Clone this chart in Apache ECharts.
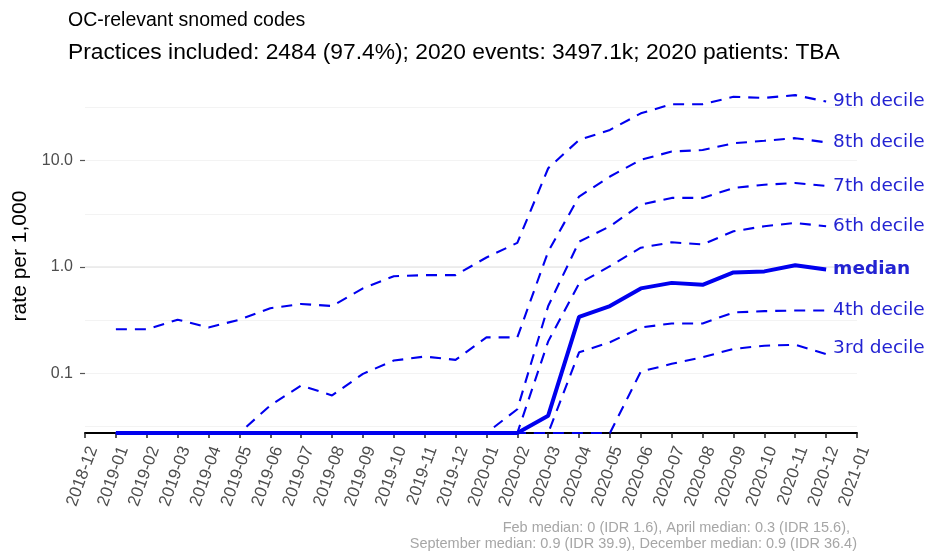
<!DOCTYPE html>
<html>
<head>
<meta charset="utf-8">
<script src="https://cdn.jsdelivr.net/npm/echarts@6.0.0/dist/echarts.min.js"></script>
<style>
  html, body { margin: 0; padding: 0; background: #fff; }
  #chart { width: 927px; height: 552px; }
</style>
</head>
<body>
<div id="chart"></div>
<script>
// x axis ticks (first of each month)
const months = ['2018-12', '2019-01', '2019-02', '2019-03', '2019-04', '2019-05', '2019-06',
  '2019-07', '2019-08', '2019-09', '2019-10', '2019-11', '2019-12', '2020-01', '2020-02',
  '2020-03', '2020-04', '2020-05', '2020-06', '2020-07', '2020-08', '2020-09', '2020-10',
  '2020-11', '2020-12', '2021-01'];
// months that carry data
const dataMonths = months.slice(1, 25);

// rate per 1,000, 2019-01 .. 2020-12 (0 = no events, drawn on the floor)
const decile9 = [0.26, 0.26, 0.32, 0.27, 0.32, 0.41, 0.45, 0.43, 0.63, 0.82, 0.84, 0.84,
  1.23, 1.69, 8.5, 15.7, 19.5, 27.9, 34, 34, 39.9, 39, 41.4, 36];
const decile8 = [0, 0, 0, 0, 0, 0.05, 0.077, 0.062, 0.099, 0.132, 0.144, 0.134,
  0.218, 0.218, 1.4, 4.6, 7.1, 10.2, 12.2, 12.6, 14.6, 15.4, 16.3, 14.9];
const decile7 = [0, 0, 0, 0, 0, 0, 0, 0, 0, 0, 0, 0,
  0, 0.046, 0.43, 1.73, 2.42, 3.87, 4.47, 4.47, 5.54, 5.95, 6.17, 5.8];
const decile6 = [0, 0, 0, 0, 0, 0, 0, 0, 0, 0, 0, 0,
  0, 0, 0.2, 0.7, 1.02, 1.52, 1.71, 1.63, 2.17, 2.42, 2.6, 2.42];
const median = [0, 0, 0, 0, 0, 0, 0, 0, 0, 0, 0, 0,
  0, 0, 0.04, 0.34, 0.43, 0.63, 0.71, 0.68, 0.89, 0.91, 1.04, 0.95];
const decile4 = [0, 0, 0, 0, 0, 0, 0, 0, 0, 0, 0, 0,
  0, 0, 0, 0.158, 0.196, 0.27, 0.295, 0.295, 0.374, 0.385, 0.39, 0.39];
const decile3 = [0, 0, 0, 0, 0, 0, 0, 0, 0, 0, 0, 0,
  0, 0, 0, 0, 0, 0.104, 0.123, 0.142, 0.17, 0.182, 0.186, 0.152];

const yTickValues = [0.1, 1, 10];
const captionLines = [
  'Feb median: 0 (IDR 1.6), April median: 0.3 (IDR 15.6),',
  'September median: 0.9 (IDR 39.9), December median: 0.9 (IDR 36.4)'
];

const yMin = 0.0275;
const yMax = 58.7;
const blue = '#0000ee';
const labelBlue = '#2323d2';

const chart = echarts.init(document.getElementById('chart'), null, { renderer: 'canvas' });

// zero rates sit on the bottom edge of the panel, like -Inf in ggplot
const toPoints = (vals) => vals.map((v, i) => [dataMonths[i], v > 0 ? v : yMin]);

const makeLine = (name, vals, solid, extra) => ({
  name: name,
  type: 'line',
  data: toPoints(vals),
  symbol: 'none',
  silent: true,
  lineStyle: {
    color: blue,
    width: solid ? 4 : 2.1,
    type: solid ? 'solid' : [11, 8]
  },
  endLabel: Object.assign({
    show: true,
    formatter: name,
    color: labelBlue,
    fontSize: 18.5,
    fontFamily: 'DejaVu Sans',
    fontWeight: solid ? 'bold' : 'normal',
    distance: 7
  }, extra || {})
});

const captionStyle = { fill: '#a6a6a6', font: '14.5px "Liberation Sans"', align: 'right' };

chart.setOption({
  animation: false,
  backgroundColor: '#fff',
  title: [
    {
      text: 'OC-relevant snomed codes',
      left: 63,
      top: 6,
      textStyle: { fontFamily: 'Liberation Sans', fontSize: 19.5, fontWeight: 'normal', color: '#000' }
    },
    {
      text: 'Practices included: 2484 (97.4%); 2020 events: 3497.1k; 2020 patients: TBA',
      left: 63,
      top: 36,
      textStyle: { fontFamily: 'Liberation Sans', fontSize: 22.8, fontWeight: 'normal', color: '#000' }
    }
  ],
  graphic: [
    { type: 'text', right: 77, top: 520, style: Object.assign({ text: captionLines[0] }, captionStyle) },
    { type: 'text', right: 70, top: 536, style: Object.assign({ text: captionLines[1] }, captionStyle) }
  ],
  grid: { left: 85, right: 70, top: 79, bottom: 119, outerBoundsMode: 'none' },
  xAxis: {
    type: 'category',
    data: months,
    boundaryGap: false,
    axisLine: { show: true, lineStyle: { color: '#000', width: 2 } },
    axisTick: { show: true, interval: 0, length: 5, lineStyle: { color: '#222', width: 1.5 } },
    axisLabel: {
      interval: 0,
      rotate: 70,
      margin: 11,
      verticalAlign: 'top',
      color: '#4d4d4d',
      fontSize: 17,
      fontFamily: 'Liberation Sans'
    },
    splitLine: { show: false }
  },
  yAxis: [
    {
      type: 'log',
      logBase: 10,
      min: yMin,
      max: yMax,
      z: 3,
      name: 'rate per 1,000',
      nameLocation: 'middle',
      nameRotate: 90,
      nameGap: 52,
      nameTextStyle: { fontFamily: 'Liberation Sans', fontSize: 21, color: '#000' },
      axisLine: { show: false },
      axisTick: {
        show: true,
        customValues: yTickValues,
        length: 5,
        lineStyle: { color: '#555', width: 1.2 }
      },
      axisLabel: {
        customValues: yTickValues,
        formatter: (v) => Number(v).toFixed(1),
        color: '#4d4d4d',
        fontSize: 16,
        fontFamily: 'Liberation Sans',
        margin: 12
      },
      splitLine: {
        show: true,
        showMinLine: false,
        showMaxLine: false,
        lineStyle: { color: '#e8e8e8', width: 1.6 }
      }
    },
    {
      // half-decade minor grid
      type: 'log',
      logBase: Math.sqrt(10),
      min: yMin,
      max: yMax,
      z: 1,
      axisLine: { show: false },
      axisTick: { show: false },
      axisLabel: { show: false },
      splitLine: {
        show: true,
        showMinLine: false,
        showMaxLine: false,
        lineStyle: { color: '#f3f3f3', width: 1 }
      }
    }
  ],
  series: [
    makeLine('9th decile', decile9, false),
    makeLine('8th decile', decile8, false),
    makeLine('7th decile', decile7, false),
    makeLine('6th decile', decile6, false),
    makeLine('median', median, true),
    makeLine('4th decile', decile4, false),
    makeLine('3rd decile', decile3, false, { offset: [0, -6] })
  ]
});
</script>
</body>
</html>
